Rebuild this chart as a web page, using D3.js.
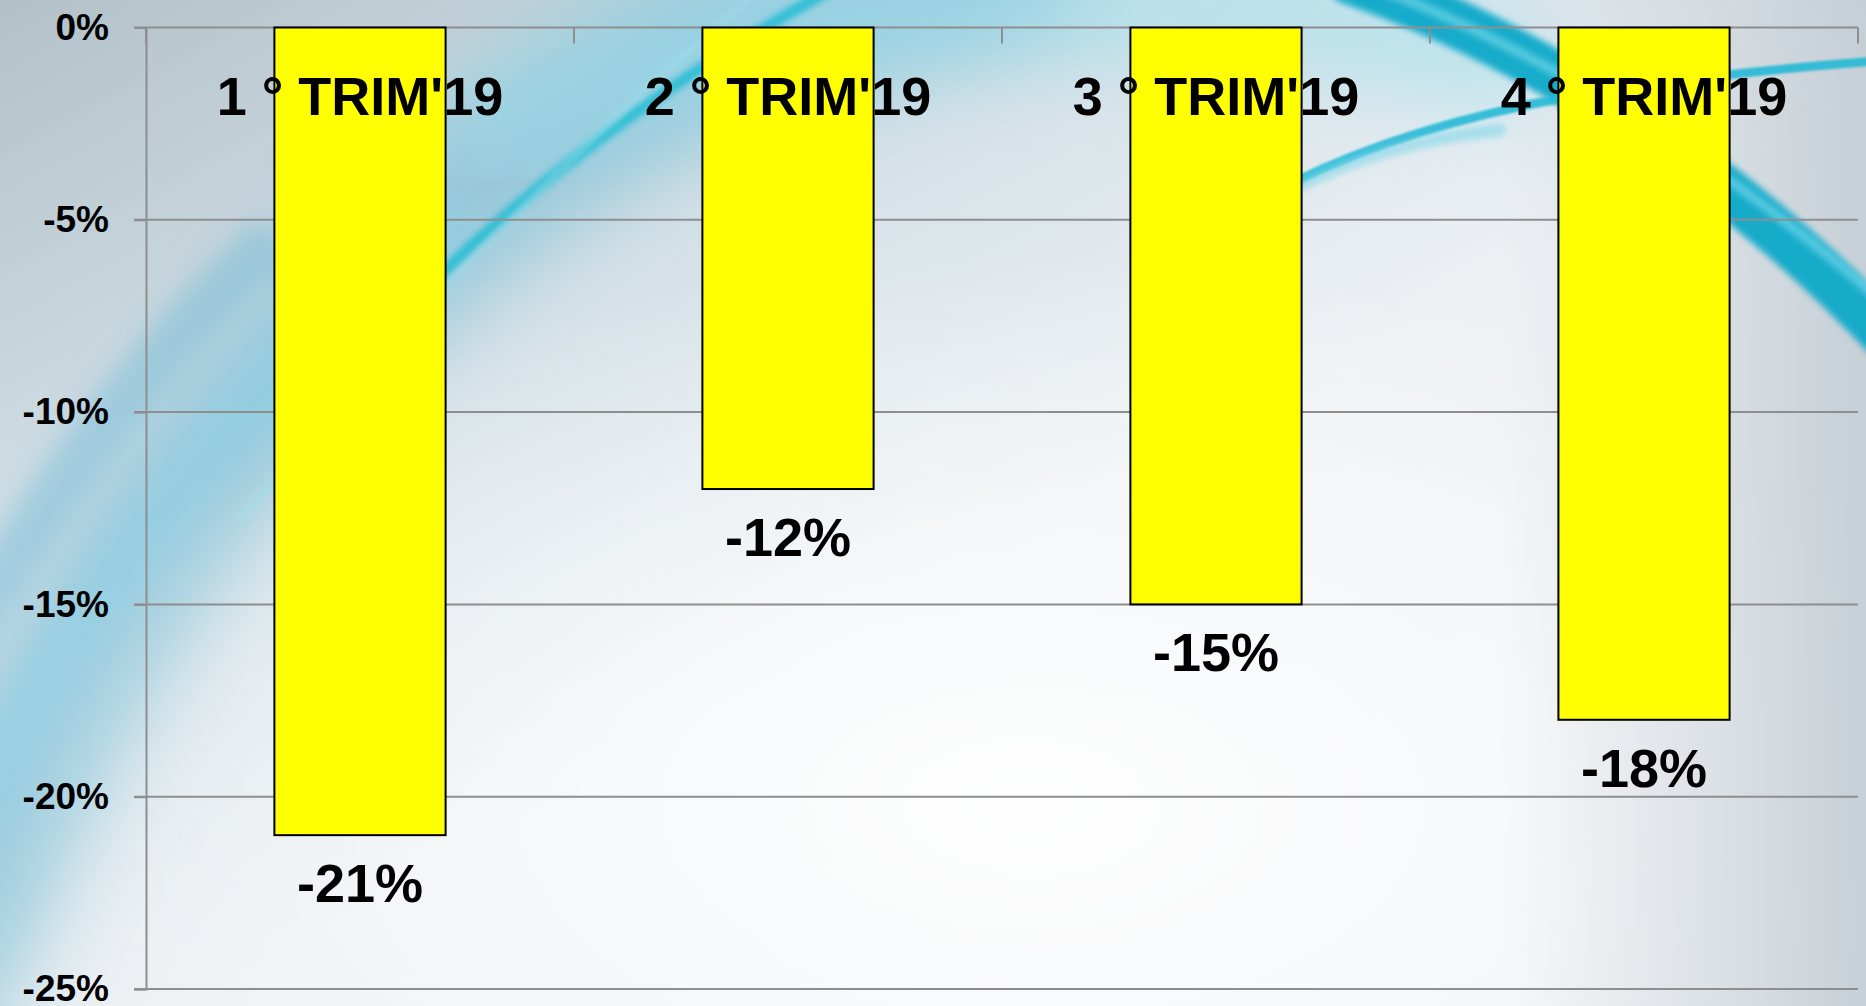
<!DOCTYPE html>
<html>
<head>
<meta charset="utf-8">
<script src="https://cdn.jsdelivr.net/npm/d3@7"></script>
<style>
  html, body { margin: 0; padding: 0; overflow: hidden; }
  svg { display: block; }
  text { font-family: "Liberation Sans", Arial, sans-serif; font-weight: bold; fill: #000; }
</style>
</head>
<body>
<svg id="chart" width="1866" height="1006"></svg>
<script>
const quarters = ["1 ° TRIM'19", "2 ° TRIM'19", "3 ° TRIM'19", "4 ° TRIM'19"];
const changes = [-0.21, -0.12, -0.15, -0.18];
const yTicks = [0, -0.05, -0.10, -0.15, -0.20, -0.25];

const W = 1866, H = 1006;
const margin = {top: 27.5, right: 8, bottom: 17, left: 146};

const svg = d3.select('#chart');
const defs = svg.append('defs');

// --- background: grey/cyan swirl wallpaper, roughly ---
const base = defs.append('linearGradient').attr('id', 'bg').attr('x1', 0).attr('y1', 0).attr('x2', 1).attr('y2', 1);
base.append('stop').attr('offset', '0%').attr('stop-color', '#b3c0c8');
base.append('stop').attr('offset', '25%').attr('stop-color', '#cfdde4');
base.append('stop').attr('offset', '55%').attr('stop-color', '#eef1f4');
base.append('stop').attr('offset', '100%').attr('stop-color', '#f2f3f5');

const glow = defs.append('radialGradient').attr('id', 'glow')
  .attr('cx', 0.55).attr('cy', 0.8).attr('r', 0.55);
glow.append('stop').attr('offset', '0%').attr('stop-color', '#ffffff').attr('stop-opacity', 0.95);
glow.append('stop').attr('offset', '100%').attr('stop-color', '#ffffff').attr('stop-opacity', 0);

const edge = defs.append('linearGradient').attr('id', 'edge').attr('x1', 0).attr('x2', 1);
edge.append('stop').attr('offset', '0%').attr('stop-color', '#c3ccd4').attr('stop-opacity', 0);
edge.append('stop').attr('offset', '100%').attr('stop-color', '#bcc7cf').attr('stop-opacity', 0.8);

[['blur40', 40], ['blur12', 12], ['blur3', 3], ['blur1', 1.2]].forEach(([id, s]) => {
  defs.append('filter').attr('id', id)
    .attr('x', '-50%').attr('y', '-50%').attr('width', '200%').attr('height', '200%')
    .append('feGaussianBlur').attr('stdDeviation', s);
});

const bg = svg.append('g');
bg.append('rect').attr('width', W).attr('height', H).attr('fill', 'url(#bg)');

const swirl = (d, color, width, filter, opacity) => bg.append('path')
  .attr('d', d).attr('fill', 'none').attr('stroke', color)
  .attr('stroke-width', width).attr('stroke-linecap', 'round')
  .attr('filter', `url(#${filter})`).attr('opacity', opacity);

// broad blue band on the left
swirl('M-80,1000 C40,720 170,450 420,240 S800,20 1000,-40', '#74bcd6', 160, 'blur40', 0.6);
swirl('M-60,880 C70,620 200,420 440,230', '#8fd2e6', 60, 'blur12', 0.45);
swirl('M-40,640 C60,480 140,360 260,250', '#6cb7d6', 50, 'blur12', 0.4);
// cyan haze along the top
swirl('M500,120 C800,-20 1200,-20 1500,60', '#9adeec', 100, 'blur40', 0.55);
bg.append('rect').attr('width', W).attr('height', H).attr('fill', 'url(#glow)');
bg.append('rect').attr('x', 1500).attr('width', W - 1500).attr('height', H).attr('fill', 'url(#edge)');
// thin cyan arc through the middle-left
swirl('M300,420 C420,290 560,140 830,-10', '#1fbcd2', 11, 'blur3', 0.85);
swirl('M240,520 C360,380 520,190 760,-10', '#9fe0ec', 6, 'blur3', 0.55);
// thick band top right
swirl('M1350,-20 C1520,40 1720,160 1890,340', '#0aa9c9', 48, 'blur3', 0.95);
swirl('M1330,-30 C1500,30 1700,140 1880,300', '#6fd6ea', 10, 'blur3', 0.7);
// thinner arc top right
swirl('M1260,200 C1420,110 1620,80 1890,60', '#26b9d6', 9, 'blur1', 0.9);
swirl('M1180,260 C1300,170 1400,140 1500,130', '#7fd7e8', 12, 'blur3', 0.6);

// --- scales ---
const x = d3.scaleBand()
  .domain(quarters)
  .range([margin.left, W - margin.right]);
const y = d3.scaleLinear()
  .domain([-0.25, 0])
  .range([H - margin.bottom, margin.top]);

const fmt = (d) => `${Math.round(d * 100)}%`;
const gridColor = '#8e8e8e';

// gridlines (also the zero axis line)
svg.append('g')
  .selectAll('line')
  .data(yTicks)
  .join('line')
  .attr('x1', margin.left - 12)
  .attr('x2', W - margin.right)
  .attr('y1', (d) => y(d))
  .attr('y2', (d) => y(d))
  .attr('stroke', gridColor)
  .attr('stroke-width', 2);

// value axis
const yAxis = svg.append('g')
  .attr('transform', `translate(${margin.left},0)`)
  .call(d3.axisLeft(y).tickValues(yTicks).tickFormat(fmt).tickSize(12).tickPadding(25));
yAxis.select('.domain').attr('stroke', gridColor).attr('stroke-width', 2);
yAxis.selectAll('.tick line').attr('stroke', gridColor).attr('stroke-width', 2);
yAxis.selectAll('.tick text')
  .attr('font-size', 37)
  .attr('font-family', null)
  .attr('dy', '0.32em');
yAxis.attr('font-family', null).attr('font-size', null);

// category tick marks hanging from the top line
const bounds = quarters.map((q) => x(q)).concat([x.range()[1]]);
svg.append('g')
  .selectAll('line')
  .data(bounds)
  .join('line')
  .attr('x1', (d) => d)
  .attr('x2', (d) => d)
  .attr('y1', y(0))
  .attr('y2', y(0) + 16)
  .attr('stroke', gridColor)
  .attr('stroke-width', 2);

// bars
const barW = x.bandwidth() * 0.4;
svg.append('g')
  .selectAll('rect')
  .data(changes)
  .join('rect')
  .attr('x', (d, i) => x(quarters[i]) + (x.bandwidth() - barW) / 2)
  .attr('y', y(0))
  .attr('width', barW)
  .attr('height', (d) => y(d) - y(0))
  .attr('fill', '#ffff00')
  .attr('stroke', '#000')
  .attr('stroke-width', 2);

// category labels, drawn over the bars
svg.append('g')
  .selectAll('text')
  .data(quarters)
  .join('text')
  .attr('x', (d) => x(d) + x.bandwidth() / 2)
  .attr('y', y(0) + 87)
  .attr('text-anchor', 'middle')
  .attr('font-size', 54)
  .text((d) => d);

// value labels under each bar
svg.append('g')
  .selectAll('text')
  .data(changes)
  .join('text')
  .attr('x', (d, i) => x(quarters[i]) + x.bandwidth() / 2)
  .attr('y', (d) => y(d) + 67)
  .attr('text-anchor', 'middle')
  .attr('font-size', 54)
  .text(fmt);
</script>
</body>
</html>
